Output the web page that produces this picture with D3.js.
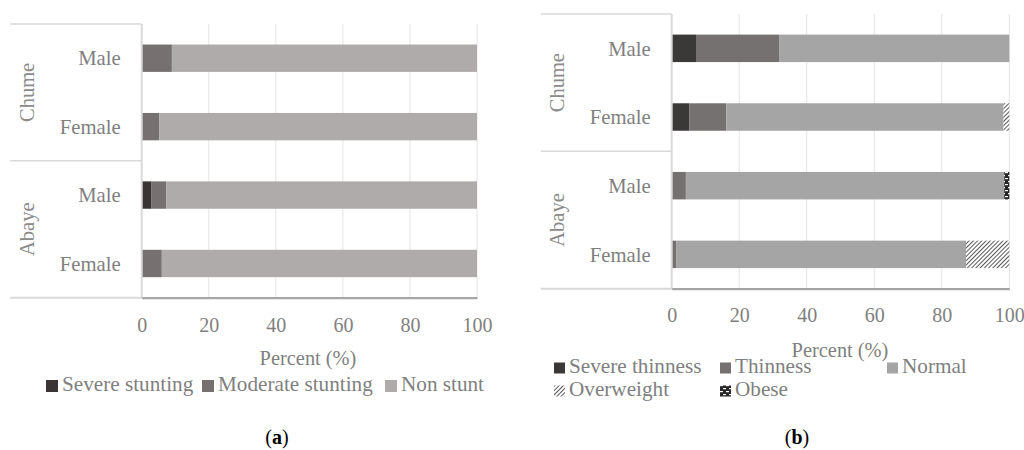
<!DOCTYPE html>
<html>
<head>
<meta charset="utf-8">
<script src="https://cdn.jsdelivr.net/npm/d3@7"></script>
<style>
  html, body { margin: 0; padding: 0; background: #fff; }
  svg { display: block; }
  text { font-family: "Liberation Serif", "DejaVu Serif", serif; }
</style>
</head>
<body>
<svg id="fig" width="1024" height="450"></svg>
<script>
// Rows shown top to bottom: district, then sex
const districts = ["Chume", "Abaye"];
const sexes = ["Male", "Female"];
const rowKeys = ["Chume|Male", "Chume|Female", "Abaye|Male", "Abaye|Female"];
const xTicks = [0, 20, 40, 60, 80, 100];

// (a) stunting, percent per row
const stuntSeries = ["Severe stunting", "Moderate stunting", "Non stunt"];
const stuntSevere   = [0.0, 0.0, 2.8, 0.0];
const stuntModerate = [9.0, 5.2, 4.5, 6.0];
const stuntNon      = [91.0, 94.8, 92.7, 94.0];

// (b) BMI-for-age, percent per row
const bmiSeries = ["Severe thinness", "Thinness", "Normal", "Overweight", "Obese"];
const bmiSevere = [7.2, 5.2, 0.0, 0.0];
const bmiThin   = [24.6, 11.0, 4.2, 1.3];
const bmiNormal = [68.2, 82.1, 94.3, 85.9];
const bmiOver   = [0.0, 1.7, 0.0, 12.8];
const bmiObese  = [0.0, 0.0, 1.5, 0.0];

const svg = d3.select("#fig");
const textColor = "#7f7f7f";
const frameColor = "#d9d9d9";

// fill patterns
const defs = svg.append("defs");
const hatch = defs.append("pattern")
  .attr("id", "hatch").attr("patternUnits", "userSpaceOnUse")
  .attr("width", 3).attr("height", 3)
  .attr("patternTransform", "rotate(45)");
hatch.append("rect").attr("width", 3).attr("height", 3).attr("fill", "#fff");
hatch.append("line").attr("x1", 0).attr("y1", 0).attr("x2", 0).attr("y2", 3)
  .attr("stroke", "#111").attr("stroke-width", 1.4);

const brick = defs.append("pattern")
  .attr("id", "brick").attr("patternUnits", "userSpaceOnUse")
  .attr("width", 6).attr("height", 6);
brick.append("rect").attr("width", 6).attr("height", 6).attr("fill", "#262626");
brick.append("rect").attr("x", 0).attr("y", 1).attr("width", 3).attr("height", 1.2).attr("fill", "#fff");
brick.append("rect").attr("x", 3).attr("y", 4).attr("width", 3).attr("height", 1.2).attr("fill", "#fff");

function panel(cfg) {
  const g = svg.append("g");
  const x = d3.scaleLinear().domain([0, 100]).range([cfg.x0, cfg.x1]);
  const y = d3.scaleBand().domain(rowKeys).range([cfg.top, cfg.bottom]).paddingInner(0.6).paddingOuter(0.3);

  // gridlines
  g.append("g").selectAll("line").data(xTicks.slice(1)).join("line")
    .attr("x1", d => x(d)).attr("x2", d => x(d))
    .attr("y1", cfg.top).attr("y2", cfg.bottom)
    .attr("stroke", "#e4e4e4").attr("stroke-width", 1);

  // stacked bars
  const table = rowKeys.map((k, i) => {
    const row = { key: k };
    cfg.series.forEach((s, j) => { row[s] = cfg.values[j][i]; });
    return row;
  });
  const stacked = d3.stack().keys(cfg.series)(table);
  g.append("g").selectAll("g").data(stacked).join("g")
    .attr("fill", (d, j) => cfg.fills[j])
    .selectAll("rect").data(d => d.filter(p => p[1] - p[0] > 0)).join("rect")
    .attr("x", d => x(d[0]))
    .attr("width", d => x(d[1]) - x(d[0]))
    .attr("y", d => y(d.data.key))
    .attr("height", y.bandwidth());

  // category frame lines
  const left = cfg.frameLeft;
  const mid = (cfg.top + cfg.bottom) / 2;
  [cfg.top, mid].forEach(yy => {
    g.append("line").attr("x1", left).attr("x2", cfg.x0).attr("y1", yy).attr("y2", yy)
      .attr("stroke", frameColor).attr("stroke-width", 1.5);
  });
  g.append("line").attr("x1", left).attr("x2", cfg.x0).attr("y1", cfg.bottom).attr("y2", cfg.bottom)
    .attr("stroke", frameColor).attr("stroke-width", 2);
  g.append("line").attr("x1", cfg.x0).attr("x2", cfg.x0).attr("y1", cfg.top).attr("y2", cfg.bottom + 1)
    .attr("stroke", frameColor).attr("stroke-width", 2);

  // value axis
  const axis = d3.axisBottom(x).tickValues(xTicks).tickSize(0).tickPadding(0);
  const ax = g.append("g").attr("transform", `translate(0,${cfg.bottom})`).call(axis);
  ax.select(".domain").attr("stroke", "#a6a6a6").attr("stroke-width", 2.2);
  ax.selectAll("text").attr("fill", textColor).attr("font-size", 20)
    .attr("dy", null).attr("y", cfg.tickY - cfg.bottom);

  // row labels
  g.append("g").selectAll("text").data(rowKeys).join("text")
    .attr("x", cfg.x0 - 21)
    .attr("y", d => y(d) + y.bandwidth() / 2)
    .attr("dy", "0.35em")
    .attr("text-anchor", "end")
    .attr("fill", textColor).attr("font-size", 20.7)
    .text(d => d.split("|")[1]);

  // district labels
  const half = (cfg.bottom - cfg.top) / 2;
  g.append("g").selectAll("text").data(districts).join("text")
    .attr("transform", (d, i) => `translate(${cfg.groupX},${cfg.top + half * (i + 0.5)}) rotate(-90)`)
    .attr("text-anchor", "middle")
    .attr("fill", "#8a8a8a").attr("font-size", 20.5)
    .text(d => d);

  // axis title
  g.append("text").attr("x", cfg.titleX).attr("y", cfg.titleY)
    .attr("text-anchor", "middle").attr("fill", textColor).attr("font-size", 20.4)
    .text("Percent (%)");

  // legend
  const lg = g.append("g").selectAll("g").data(cfg.series).join("g")
    .attr("transform", (d, j) => `translate(${cfg.legendPos[j][0]},${cfg.legendPos[j][1]})`);
  lg.append("rect").attr("x", 0).attr("y", -cfg.sw / 2 + 1).attr("width", cfg.sw).attr("height", cfg.sw)
    .attr("fill", (d, j) => cfg.fills[j]);
  lg.append("text").attr("x", cfg.sw + 4).attr("y", 0).attr("dy", "0.3em")
    .attr("fill", textColor).attr("font-size", 21.2)
    .text(d => d);

  // panel caption: bold letter inside plain parentheses
  const cap = g.append("text").attr("x", cfg.capX).attr("y", 444)
    .attr("text-anchor", "middle").attr("fill", "#000").attr("font-size", 20);
  cap.append("tspan").text("(");
  cap.append("tspan").attr("font-weight", "bold").text(cfg.caption);
  cap.append("tspan").text(")");
}

panel({
  x0: 141.7, x1: 477, top: 24, bottom: 297.7, frameLeft: 10, groupX: 34,
  tickY: 332, titleX: 308, titleY: 365,
  series: stuntSeries,
  values: [stuntSevere, stuntModerate, stuntNon],
  fills: ["#3a3534", "#767170", "#afabaa"],
  sw: 12,
  legendPos: [[46, 385], [202, 385], [385, 385]],
  capX: 277, caption: "a"
});

panel({
  x0: 671.7, x1: 1009.3, top: 14, bottom: 288.7, frameLeft: 540.7, groupX: 563.5,
  tickY: 322, titleX: 840, titleY: 357,
  series: bmiSeries,
  values: [bmiSevere, bmiThin, bmiNormal, bmiOver, bmiObese],
  fills: ["#3b3838", "#767171", "#a5a5a5", "url(#hatch)", "url(#brick)"],
  sw: 11,
  legendPos: [[554, 367], [720, 367], [887, 367], [554, 390], [720, 390]],
  capX: 797, caption: "b"
});
</script>
</body>
</html>
